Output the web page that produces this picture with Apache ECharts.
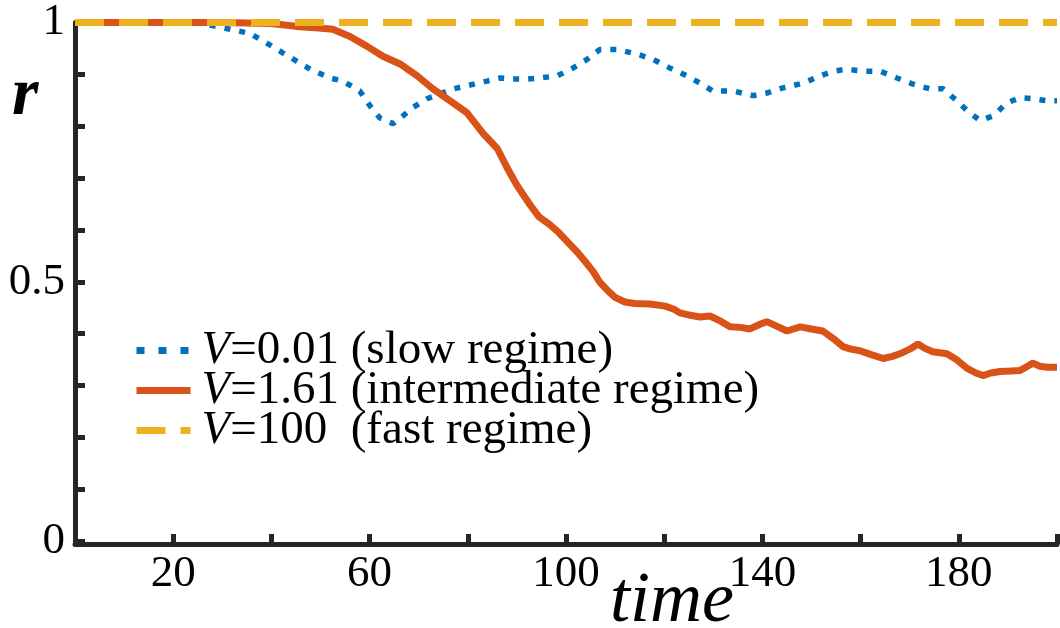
<!DOCTYPE html>
<html>
<head>
<meta charset="utf-8">
<title>r versus time</title>
<script src="https://cdn.jsdelivr.net/npm/echarts@6/dist/echarts.min.js"></script>
<style>
  html, body { margin: 0; padding: 0; background: #ffffff; }
  #chart { width: 1060px; height: 628px; }
</style>
</head>
<body>
<div id="chart"></div>
<script>
// Order parameter r over time for three speeds V.

// V = 0.01 (slow regime)
const slowTime = [0, 10, 20, 25, 27, 31.6, 35.6, 39.1, 42.4, 45.2, 47.9, 51.9, 54.6, 58, 60.1, 62.1, 64.8, 66.8,
  68.8, 71.7, 74.3, 77, 79.8, 83.9, 86.6, 89.2, 92.1, 94.7, 98.2, 101.4, 104.3, 106.9, 110.4, 114.5, 117.7,
  121.2, 124.6, 127.3, 129.9, 134, 138.1, 140.9, 144.2, 148.3, 151.7, 154.4, 157.2, 160.5, 164, 167.4, 170.7,
  174.1, 176.8, 179.6, 181.7, 184.3, 187, 189.8, 192.5, 195.1, 198, 200];
const slowR = [1, 1, 1, 0.999, 0.996, 0.987, 0.979, 0.960, 0.941, 0.925, 0.910, 0.893, 0.887, 0.868, 0.839, 0.816, 0.805, 0.820,
  0.836, 0.853, 0.862, 0.872, 0.878, 0.887, 0.893, 0.891, 0.891, 0.893, 0.897, 0.912, 0.929, 0.948, 0.948, 0.939, 0.929,
  0.912, 0.897, 0.883, 0.868, 0.868, 0.859, 0.864, 0.874, 0.883, 0.897, 0.906, 0.910, 0.906, 0.906, 0.893, 0.881,
  0.872, 0.872, 0.849, 0.830, 0.811, 0.820, 0.845, 0.855, 0.853, 0.849, 0.849];

// V = 1.61 (intermediate regime)
const midTime = [0, 10, 20, 30, 40, 45.8, 49, 52.5, 56, 59.5, 62.7, 66.2, 69.7, 72.9, 76.4, 79.8, 83.1, 86, 88, 90,
  92.7, 94.5, 96.7, 98.5, 100.8, 102.5, 103.9, 105.5, 106.9, 108.5, 110, 112, 114, 117.1, 120.2, 122, 123.2, 125,
  127.3, 129.3, 131.5, 133.4, 135.5, 137.5, 139.5, 140.9, 143, 145, 147.7, 150, 152.3, 154.5, 156.4, 158, 159.9,
  162, 164.6, 166.5, 168, 170, 171.7, 173, 174.7, 177.6, 179.5, 181.7, 183.5, 184.9, 186.5, 188.4, 190.5, 192.5,
  194, 195.1, 196.5, 198, 200];
const midR = [1, 1, 1, 1, 0.998, 0.992, 0.990, 0.987, 0.973, 0.954, 0.935, 0.920, 0.897, 0.872, 0.849, 0.826, 0.786, 0.757, 0.720, 0.686,
  0.648, 0.625, 0.610, 0.595, 0.572, 0.555, 0.539, 0.520, 0.499, 0.483, 0.470, 0.461, 0.458, 0.457, 0.453, 0.447, 0.440, 0.436,
  0.432, 0.434, 0.424, 0.413, 0.412, 0.409, 0.418, 0.423, 0.414, 0.405, 0.413, 0.409, 0.405, 0.390, 0.375, 0.370, 0.367,
  0.360, 0.352, 0.356, 0.361, 0.370, 0.380, 0.372, 0.365, 0.361, 0.350, 0.333, 0.324, 0.319, 0.324, 0.327, 0.328, 0.329,
  0.337, 0.343, 0.337, 0.335, 0.335];

// V = 100 (fast regime)
const fastTime = [0, 50, 100, 150, 200];
const fastR = [1, 1, 1, 1, 1];

const seriesNames = ['V=0.01 (slow regime)', 'V=1.61 (intermediate regime)', 'V=100  (fast regime)'];
const seriesColors = ['#0072BD', '#D95319', '#EDB120'];

const xLabelTicks = [20, 60, 100, 140, 180];
const yLabelTicks = ['0', '0.5', '1'];

const zip = (ts, rs) => ts.map((t, i) => [t, rs[i]]);

const AXIS = '#262626';
const SERIF = '"Liberation Serif", "DejaVu Serif", serif';

const chart = echarts.init(document.getElementById('chart'), null, { renderer: 'canvas' });

chart.setOption({
  animation: false,
  backgroundColor: '#ffffff',
  grid: { left: 75, right: 3, top: 22, bottom: 87, containLabel: false },
  xAxis: {
    type: 'value',
    min: 0, max: 200, interval: 20,
    offset: 3,
    axisLine: { show: true, onZero: false, lineStyle: { color: AXIS, width: 5 } },
    axisTick: { show: true, inside: true, length: 10, lineStyle: { color: AXIS, width: 5 } },
    splitLine: { show: false },
    axisLabel: {
      margin: 8,
      color: '#000',
      fontFamily: SERIF,
      fontSize: 45,
      formatter: v => (xLabelTicks.indexOf(Math.round(v)) >= 0 ? String(Math.round(v)) : '')
    }
  },
  yAxis: {
    type: 'value',
    min: 0, max: 1, interval: 0.1,
    axisLine: { show: true, lineStyle: { color: AXIS, width: 5 } },
    axisTick: { show: true, inside: true, length: 10, lineStyle: { color: AXIS, width: 5 } },
    splitLine: { show: false },
    axisLabel: {
      margin: 10,
      color: '#000',
      fontFamily: SERIF,
      fontSize: 45,
      formatter: v => {
        const s = String(Math.round(v * 10) / 10);
        return yLabelTicks.indexOf(s) >= 0 ? s : '';
      }
    }
  },
  legend: {
    orient: 'vertical',
    left: 133,
    top: 327,
    itemWidth: 54,
    itemHeight: 7,
    itemGap: -7,
    padding: 0,
    selectedMode: false,
    itemStyle: { opacity: 0 },
    data: [
      { name: seriesNames[0], lineStyle: { type: [8, 14], width: 7 } },
      { name: seriesNames[1], lineStyle: { width: 7 } },
      { name: seriesNames[2], lineStyle: { type: [29, 15], width: 7 } }
    ],
    formatter: name => '{it|V}' + name.slice(1),
    textStyle: {
      color: '#000',
      fontFamily: SERIF,
      fontSize: 47,
      lineHeight: 40,
      padding: [0, 0, 0, 6],
      rich: {
        it: { fontStyle: 'italic', fontFamily: SERIF, fontSize: 47, lineHeight: 40, color: '#000' }
      }
    }
  },
  series: [
    {
      name: seriesNames[0],
      type: 'line',
      data: zip(slowTime, slowR),
      showSymbol: false, symbol: 'none', clip: false,
      lineStyle: { color: seriesColors[0], width: 5.5, type: [6, 9] },
      itemStyle: { color: seriesColors[0] },
      z: 2
    },
    {
      name: seriesNames[1],
      type: 'line',
      data: zip(midTime, midR),
      showSymbol: false, symbol: 'none', clip: false,
      lineStyle: { color: seriesColors[1], width: 7 },
      itemStyle: { color: seriesColors[1] },
      z: 3
    },
    {
      name: seriesNames[2],
      type: 'line',
      data: zip(fastTime, fastR),
      showSymbol: false, symbol: 'none', clip: false,
      lineStyle: { color: seriesColors[2], width: 7, type: [29, 15] },
      itemStyle: { color: seriesColors[2] },
      z: 4
    }
  ],
  graphic: [
    {
      type: 'text',
      left: 12, top: 62,
      style: { text: 'r', font: 'italic bold 68px ' + SERIF, fill: '#000' }
    },
    {
      type: 'text',
      left: 610, top: 566,
      style: { text: 'time', font: 'italic 72px ' + SERIF, fill: '#000' }
    }
  ]
});
</script>
</body>
</html>
